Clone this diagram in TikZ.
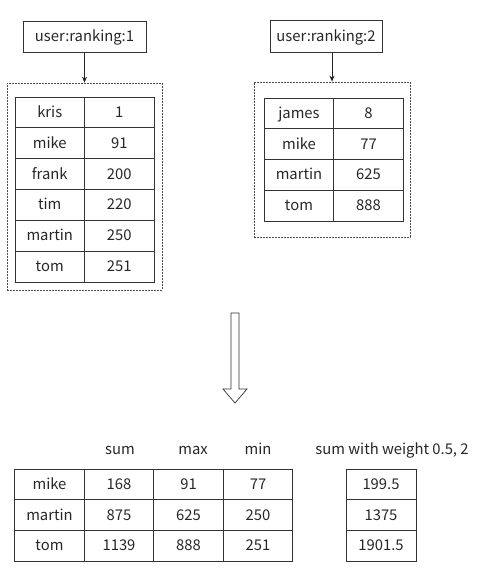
\documentclass[tikz,border=0pt]{standalone}
\usepackage{fontspec}
\setmainfont{Noto Sans CJK SC}
\usetikzlibrary{arrows.meta}
\begin{document}
\begin{tikzpicture}[x=1pt,y=-1pt,
  txt/.style={font=\fontsize{14.8}{17}\selectfont, text=black!85, text height=11pt, text depth=1pt},
  keybox/.style={txt, draw=black!80, line width=0.8pt, inner sep=0pt},
  cell/.style={txt, draw=black!80, line width=0.8pt, inner sep=0pt, minimum width=69.5pt},
  dbox/.style={draw=black!70, dash pattern=on 1.6pt off 1.4pt, line width=0.7pt, inner sep=0pt},
  link/.style={-{Stealth[length=6pt,width=5pt]}, line width=0.7pt, black!85}]
\useasboundingbox (0,0) rectangle (485,571);
% key boxes
\node[keybox, minimum width=123pt, minimum height=31pt] (k1) at (84.5,36.5) {user:ranking:1};
\node[keybox, minimum width=112pt, minimum height=32pt] (k2) at (326,36) {user:ranking:2};
% dashed containers
\node[dbox, minimum width=155pt, minimum height=207pt] (d1) at (84.5,186.5) {};
\node[dbox, minimum width=156pt, minimum height=155pt] (d2) at (332,159.5) {};
\draw[link] (k1.south) -- (d1.north);
\draw[link] (k2.south -| d2.north) -- (d2.north);
% table 1
\foreach \n/\v [count=\i from 0] in {kris/1, mike/91, frank/200, tim/220, martin/250, tom/251}{
  \node[cell, minimum height=30.83pt] (a\i n) at (49.75, 97+30.83*\i+15.42) {\n};
  \node[cell, minimum height=30.83pt] (a\i v) at (119.25, 97+30.83*\i+15.42) {\v};
}
% table 2
\foreach \n/\v [count=\i from 0] in {james/8, mike/77, martin/625, tom/888}{
  \node[cell, minimum height=30.75pt] (b\i n) at (299, 98+30.75*\i+15.38) {\n};
  \node[cell, minimum height=30.75pt] (b\i v) at (368.5, 98+30.75*\i+15.38) {\v};
}
% big hollow arrow
\draw[line width=0.7pt, black!80, line join=miter]
  (231,313) -- (239,313) -- (239,389) -- (247,389) -- (235,403) -- (223,389) -- (231,389) -- cycle;
% headers
\node[txt] (hs) at (120,449) {sum};
\node[txt] (hx) at (193,449) {max};
\node[txt] (hm) at (258,449) {min};
\node[txt] (hw) at (392,449) {sum with weight 0.5, 2};
% result table
\foreach \n/\s/\x/\m/\w [count=\i from 0] in {mike/168/91/77/199.5, martin/875/625/250/1375, tom/1139/888/251/1901.5}{
  \node[cell, minimum height=30.67pt] (c\i n) at (49.5, 469+30.67*\i+15.33) {\n};
  \node[cell, minimum height=30.67pt] (c\i s) at (119, 469+30.67*\i+15.33) {\s};
  \node[cell, minimum height=30.67pt] (c\i x) at (188.5, 469+30.67*\i+15.33) {\x};
  \node[cell, minimum height=30.67pt] (c\i m) at (258, 469+30.67*\i+15.33) {\m};
  \node[cell, minimum height=30.67pt, minimum width=70pt] (c\i w) at (381, 469+30.67*\i+15.33) {\w};
}
\end{tikzpicture}
\end{document}
